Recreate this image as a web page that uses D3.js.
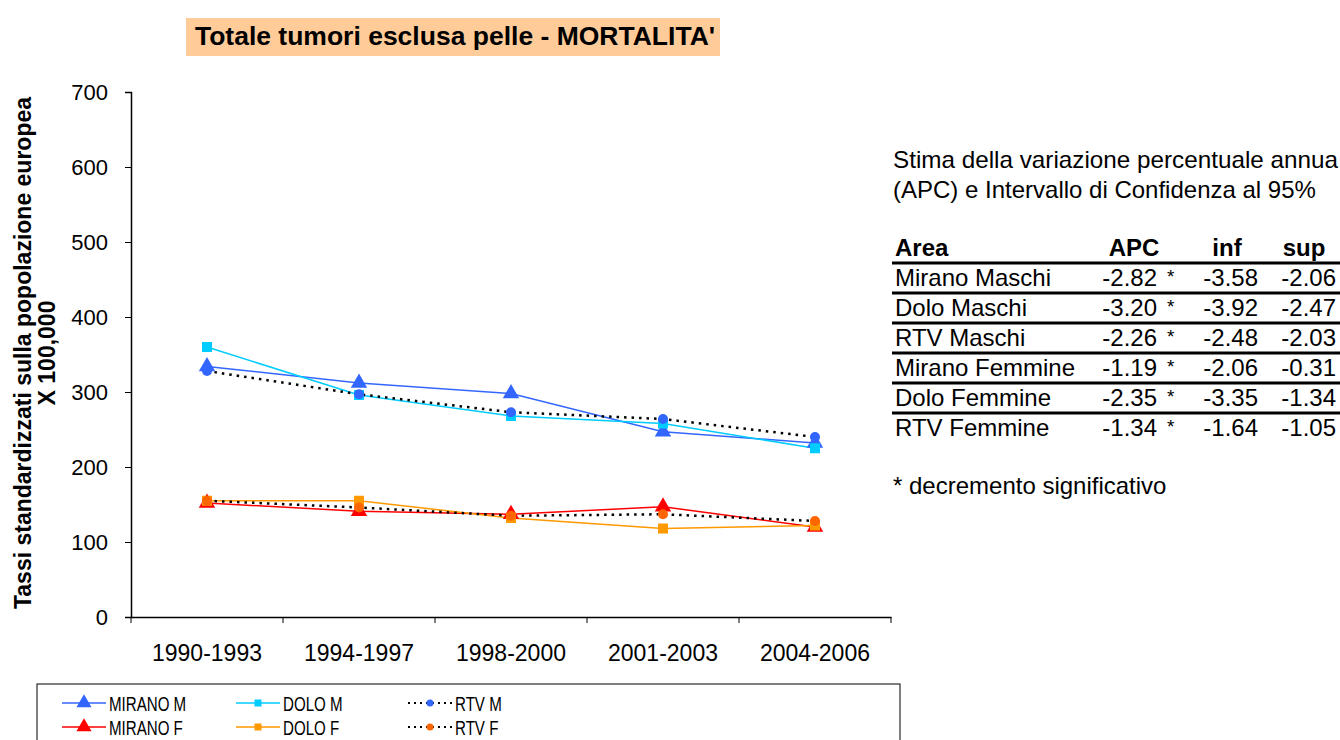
<!DOCTYPE html>
<html>
<head>
<meta charset="utf-8">
<script src="https://cdn.jsdelivr.net/npm/d3@7"></script>
<style>
  body { margin: 0; background: #fff; }
  svg { font-family: "Liberation Sans", Arial, sans-serif; }
</style>
</head>
<body>
<svg id="chart" width="1340" height="740"></svg>
<script>
// periods on the x axis
const periods = ['1990-1993', '1994-1997', '1998-2000', '2001-2003', '2004-2006']
const yTicks = [0, 100, 200, 300, 400, 500, 600, 700]

// rates
const miranoM = [334, 312, 298, 247, 232]
const doloM = [360, 296, 268, 258, 225]
const rtvM = [328, 297, 273, 264, 240]
const miranoF = [152, 141, 137, 147, 120]
const doloF = [155, 155, 132, 118, 122]
const rtvF = [155, 146, 135, 137, 128]

// APC table
const areas = ['Mirano Maschi', 'Dolo Maschi', 'RTV Maschi', 'Mirano Femmine', 'Dolo Femmine', 'RTV Femmine']
const apc = ['-2.82', '-3.20', '-2.26', '-1.19', '-2.35', '-1.34']
const inf = ['-3.58', '-3.92', '-2.48', '-2.06', '-3.35', '-1.64']
const sup = ['-2.06', '-2.47', '-2.03', '-0.31', '-1.34', '-1.05']

const series = [
  { name: 'MIRANO M', values: miranoM, color: '#3366ff', marker: 'triangle', dotted: false },
  { name: 'DOLO M', values: doloM, color: '#00ccff', marker: 'square', dotted: false },
  { name: 'RTV M', values: rtvM, color: '#3366ff', marker: 'circle', dotted: true },
  { name: 'MIRANO F', values: miranoF, color: '#ff0000', marker: 'triangle', dotted: false },
  { name: 'DOLO F', values: doloF, color: '#ff9900', marker: 'square', dotted: false },
  { name: 'RTV F', values: rtvF, color: '#ff6600', marker: 'circle', dotted: true },
]

const svg = d3.select('#chart')

const x = d3.scaleBand().domain(periods).range([131, 891])
const y = d3.scaleLinear().domain([0, 700]).range([617, 92])

// title
svg.append('rect')
  .attr('x', 186).attr('y', 18).attr('width', 534).attr('height', 38)
  .attr('fill', '#ffcc99')
svg.append('text')
  .attr('x', 455).attr('y', 45)
  .attr('text-anchor', 'middle')
  .attr('font-size', 26.5).attr('font-weight', 'bold')
  .text("Totale tumori esclusa pelle - MORTALITA'")

// axes
const yAxis = svg.append('g')
  .attr('transform', 'translate(131,0)')
  .call(d3.axisLeft(y).tickValues(yTicks).tickSize(6).tickPadding(17))
yAxis.select('.domain').attr('stroke', '#000').attr('stroke-width', 1.5)
yAxis.selectAll('text').attr('font-size', 22).attr('font-family', 'Liberation Sans, Arial').attr('fill', '#000')

const xAxis = svg.append('g')
  .attr('transform', 'translate(0,617)')
  .call(d3.axisBottom(x).tickSize(0).tickPadding(28))
xAxis.select('.domain').attr('stroke', '#000').attr('stroke-width', 1.5)
xAxis.selectAll('text').attr('font-size', 23).attr('font-family', 'Liberation Sans, Arial').attr('fill', '#000')
// tick marks at the band edges
const edges = periods.map(p => x(p)).concat([x.range()[1]])
xAxis.selectAll('.edge').data(edges).join('line')
  .attr('x1', d => d).attr('x2', d => d)
  .attr('y1', 0).attr('y2', 6)
  .attr('stroke', '#000')

// y label
const ylab = svg.append('text')
  .attr('transform', 'translate(31,353) rotate(-90)')
  .attr('text-anchor', 'middle')
  .attr('font-size', 23).attr('font-weight', 'bold')
ylab.append('tspan').attr('x', 0).attr('dy', 0).text('Tassi standardizzati sulla popolazione europea')
ylab.append('tspan').attr('x', 0).attr('dy', 24).text('X 100,000')

const line = d3.line()
  .x((d, i) => x(periods[i]) + x.bandwidth() / 2)
  .y(d => y(d))

function drawMarker(g, kind, color, cx, cy, s) {
  if (kind === 'triangle') {
    g.append('path')
      .attr('d', d3.symbol(d3.symbolTriangle, s * 9)())
      .attr('transform', `translate(${cx},${cy})`)
      .attr('fill', color)
  } else if (kind === 'square') {
    g.append('rect')
      .attr('x', cx - s / 2).attr('y', cy - s / 2)
      .attr('width', s).attr('height', s)
      .attr('fill', color)
  } else {
    g.append('circle')
      .attr('cx', cx).attr('cy', cy).attr('r', s / 2)
      .attr('fill', color)
  }
}

const plot = svg.append('g')
series.forEach(s => {
  plot.append('path')
    .datum(s.values)
    .attr('d', line)
    .attr('fill', 'none')
    .attr('stroke', s.dotted ? '#000' : s.color)
    .attr('stroke-width', s.dotted ? 2.5 : 1.5)
    .attr('stroke-dasharray', s.dotted ? '2.5,5' : null)
})
series.forEach(s => {
  s.values.forEach((v, i) => {
    drawMarker(plot, s.marker, s.color, x(periods[i]) + x.bandwidth() / 2, y(v), s.marker === 'triangle' ? 13 : 10)
  })
})

// legend
const leg = svg.append('g')
leg.append('rect')
  .attr('x', 37).attr('y', 684).attr('width', 863).attr('height', 70)
  .attr('fill', '#fff').attr('stroke', '#000').attr('stroke-width', 1)
const legX = [62, 236, 408]
series.forEach((s, i) => {
  const lx = legX[i % 3]
  const ly = 703 + Math.floor(i / 3) * 24
  leg.append('line')
    .attr('x1', lx).attr('x2', lx + 44).attr('y1', ly).attr('y2', ly)
    .attr('stroke', s.dotted ? '#000' : s.color)
    .attr('stroke-width', s.dotted ? 2 : 1.5)
    .attr('stroke-dasharray', s.dotted ? '2,4' : null)
  drawMarker(leg, s.marker, s.color, lx + 22, ly, s.marker === 'triangle' ? 11 : 7)
  leg.append('text')
    .attr('transform', `translate(${lx + 47},${ly + 8}) scale(0.72,1)`)
    .attr('font-size', 21)
    .text(s.name)
})

// right side notes
svg.append('text').attr('x', 893).attr('y', 168).attr('font-size', 24)
  .attr('textLength', 445).attr('lengthAdjust', 'spacingAndGlyphs')
  .text('Stima della variazione percentuale annua')
svg.append('text').attr('x', 893).attr('y', 198).attr('font-size', 24)
  .text('(APC) e Intervallo di Confidenza al 95%')

const tab = svg.append('g').attr('font-size', 24)
const rowY = i => 286 + i * 30
tab.append('text').attr('x', 895).attr('y', 256).attr('font-weight', 'bold').text('Area')
tab.append('text').attr('x', 1134).attr('y', 256).attr('font-weight', 'bold').attr('text-anchor', 'middle').text('APC')
tab.append('text').attr('x', 1227).attr('y', 256).attr('font-weight', 'bold').attr('text-anchor', 'middle').text('inf')
tab.append('text').attr('x', 1304).attr('y', 256).attr('font-weight', 'bold').attr('text-anchor', 'middle').text('sup')

tab.selectAll('.sep').data(d3.range(6)).join('line')
  .attr('x1', 892).attr('x2', 1340)
  .attr('y1', i => 263 + i * 30).attr('y2', i => 263 + i * 30)
  .attr('stroke', '#000').attr('stroke-width', 3)

areas.forEach((a, i) => {
  tab.append('text').attr('x', 895).attr('y', rowY(i)).text(a)
  tab.append('text').attr('x', 1157).attr('y', rowY(i)).attr('text-anchor', 'end').text(apc[i])
  tab.append('text').attr('x', 1167).attr('y', rowY(i) - 3).attr('font-size', 19).text('*')
  tab.append('text').attr('x', 1258).attr('y', rowY(i)).attr('text-anchor', 'end').text(inf[i])
  tab.append('text').attr('x', 1336).attr('y', rowY(i)).attr('text-anchor', 'end').text(sup[i])
})

svg.append('text').attr('x', 893).attr('y', 494).attr('font-size', 24)
  .text('* decremento significativo')
</script>
</body>
</html>
